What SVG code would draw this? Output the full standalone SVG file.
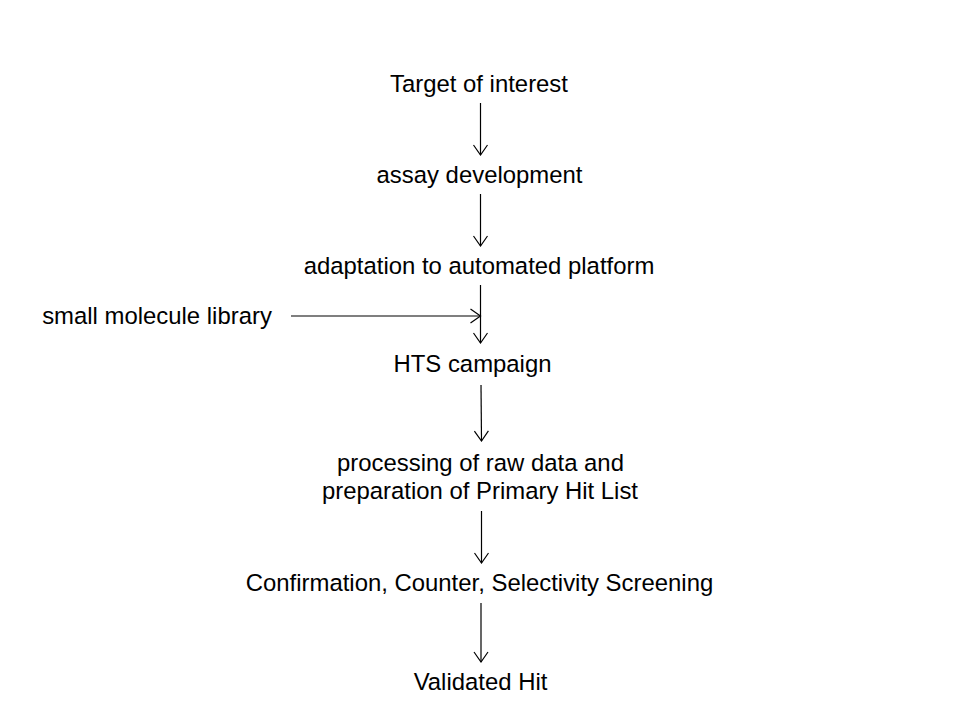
<svg xmlns="http://www.w3.org/2000/svg" width="960" height="720" viewBox="0 0 960 720">
<defs>
<marker id="arr" viewBox="0 0 12 16" refX="11" refY="8" markerWidth="12" markerHeight="16" markerUnits="userSpaceOnUse" orient="auto">
<path d="M1,1 L11,8 L1,15" fill="none" stroke="#000" stroke-width="1.2"/>
</marker>
<style>
text{font-family:"Liberation Sans",Arial,sans-serif;font-size:23.9px;fill:#000;text-anchor:middle}
.c line{stroke:#000;stroke-width:1.2;marker-end:url(#arr)}
</style>
</defs>
<rect width="960" height="720" fill="#fff"/>
<g id="n1"><text x="479" y="92">Target of interest</text></g>
<g id="n2"><text x="479.5" y="183">assay development</text></g>
<g id="n3"><text x="479" y="274">adaptation to automated platform</text></g>
<g id="n4"><text x="157" y="324">small molecule library</text></g>
<g id="n5"><text x="472.5" y="372">HTS campaign</text></g>
<g id="n6"><text x="480.5" y="471">processing of raw data and</text><text x="480" y="499">preparation of Primary Hit List</text></g>
<g id="n7"><text x="479.5" y="591">Confirmation, Counter, Selectivity Screening</text></g>
<g id="n8"><text x="480.5" y="690">Validated Hit</text></g>
<g class="c" id="connectors">
<line x1="480.5" y1="103" x2="480.5" y2="155"/>
<line x1="480.5" y1="194" x2="480.5" y2="246"/>
<line x1="480.5" y1="285" x2="480.5" y2="343"/>
<line x1="291" y1="316" x2="480.5" y2="316"/>
<line x1="481" y1="385" x2="481.5" y2="441"/>
<line x1="481.5" y1="511" x2="481.5" y2="563"/>
<line x1="481" y1="603" x2="481" y2="662"/>
</g>
</svg>
